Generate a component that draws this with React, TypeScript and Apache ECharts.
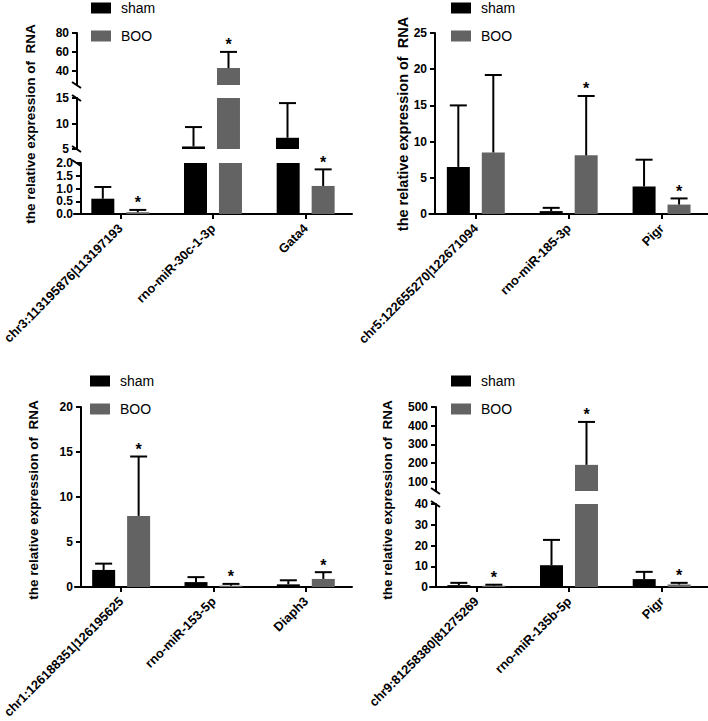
import React, { useEffect, useRef } from 'react';
import * as echarts from 'echarts';

const groupNames = ['sham', 'BOO'];
const groupColors = ['#000000', '#636363'];
const yTitle = 'the relative expression of  RNA';

// Panel A (top-left)
const catsA = ['chr3:113195876|113197193', 'rno-miR-30c-1-3p', 'Gata4'];
const shamA = [0.6, 5.5, 7.2];
const shamSdA = [0.46, 3.8, 6.8];
const booA = [0.07, 43, 1.1];
const booSdA = [0.09, 17, 0.65];
const sigA = [1, 1, 1];
const rangesA = [[25, 80], [5, 15], [0, 2]];
const ticksA = [[40, 60, 80], [5, 10, 15], [0, 0.5, 1, 1.5, 2]];

// Panel B (top-right)
const catsB = ['chr5:122655270|122671094', 'rno-miR-185-3p', 'Pigr'];
const shamB = [6.5, 0.4, 3.8];
const shamSdB = [8.5, 0.45, 3.7];
const booB = [8.5, 8.1, 1.3];
const booSdB = [10.7, 8.2, 0.85];
const sigB = [0, 1, 1];
const rangesB = [[0, 25]];
const ticksB = [[0, 5, 10, 15, 20, 25]];

// Panel C (bottom-left)
const catsC = ['chr1:126188351|126195625', 'rno-miR-153-5p', 'Diaph3'];
const shamC = [1.9, 0.55, 0.3];
const shamSdC = [0.7, 0.55, 0.45];
const booC = [7.9, 0.15, 0.9];
const booSdC = [6.6, 0.2, 0.75];
const sigC = [1, 1, 1];
const rangesC = [[0, 20]];
const ticksC = [[0, 5, 10, 15, 20]];

// Panel D (bottom-right)
const catsD = ['chr9:81258380|81275269', 'rno-miR-135b-5p', 'Pigr'];
const shamD = [0.9, 10.5, 3.8];
const shamSdD = [1.1, 12.2, 3.5];
const booD = [0.6, 190, 1.2];
const booSdD = [0.5, 230, 0.8];
const sigD = [1, 1, 1];
const rangesD = [[50, 500], [0, 40]];
const ticksD = [[100, 200, 300, 400, 500], [0, 10, 20, 30, 40]];

const panels = [
  { cats: catsA, sham: shamA, shamSd: shamSdA, boo: booA, booSd: booSdA, sig: sigA, ranges: rangesA, ticks: ticksA, decimals: [0, 0, 1] },
  { cats: catsB, sham: shamB, shamSd: shamSdB, boo: booB, booSd: booSdB, sig: sigB, ranges: rangesB, ticks: ticksB, decimals: [0] },
  { cats: catsC, sham: shamC, shamSd: shamSdC, boo: booC, booSd: booSdC, sig: sigC, ranges: rangesC, ticks: ticksC, decimals: [0] },
  { cats: catsD, sham: shamD, shamSd: shamSdD, boo: booD, booSd: booSdD, sig: sigD, ranges: rangesD, ticks: ticksD, decimals: [0, 0] },
];

// Layout (pixels)
const layouts = [
  { axisX: 77, c0: 117, step: 94, segs: [[33, 85], [98, 149], [163, 214]], legend: [91, 1], title: [30, 124], titleSize: 13.5 },
  { axisX: 435, c0: 476.5, step: 94.25, segs: [[33, 214]], legend: [451, 1], title: [403, 124], titleSize: 14.5 },
  { axisX: 76, c0: 117, step: 94, segs: [[407, 588]], legend: [90, 374], title: [33, 500], titleSize: 13.5 },
  { axisX: 436, c0: 477, step: 94, segs: [[407, 491], [504, 587]], legend: [451, 374], title: [387, 500], titleSize: 13.5 },
];

const FONT = '"Liberation Sans", Arial, sans-serif';
const BAR_W = 23;
const BAR_OFFSET = 17.5;
const CAP = 8.5;

function buildOption() {
  const grid: any[] = [];
  const xAxis: any[] = [];
  const yAxis: any[] = [];
  const series: any[] = [];
  const graphic: any[] = [];
  const legend: any[] = [];

  panels.forEach((p, pi) => {
    const L = layouts[pi];
    const left = L.c0 - L.step / 2;
    const width = L.step * 3;
    L.segs.forEach((s, si) => {
      const gi = grid.length;
      const isBottom = si === L.segs.length - 1;
      const [mn, mx] = p.ranges[si];
      const dec = p.decimals[si];
      grid.push({ left, top: s[0], width, height: s[1] - s[0], containLabel: false });
      xAxis.push({
        type: 'category',
        gridIndex: gi,
        data: p.cats,
        show: isBottom,
        boundaryGap: true,
        axisLine: { show: true, onZero: false, lineStyle: { color: '#000', width: 2 } },
        axisTick: { show: true, alignWithLabel: true, length: 5, lineStyle: { color: '#000', width: 2 } },
        axisLabel: {
          show: isBottom, rotate: 45, interval: 0, margin: 12, color: '#000',
          fontWeight: 'bold', fontSize: 12.8, fontFamily: FONT, hideOverlap: false,
        },
        splitLine: { show: false },
      });
      yAxis.push({
        type: 'value',
        gridIndex: gi,
        min: mn,
        max: mx,
        offset: left - L.axisX,
        splitLine: { show: false },
        axisLine: { show: true, lineStyle: { color: '#000', width: 2 } },
        axisTick: { show: true, length: 5, customValues: p.ticks[si], lineStyle: { color: '#000', width: 2 } },
        axisLabel: {
          customValues: p.ticks[si],
          showMinLabel: true,
          showMaxLabel: true,
          hideOverlap: false,
          formatter: (v: number) => (dec ? v.toFixed(1) : String(v)),
          color: '#000', fontWeight: 'bold', fontSize: 12, lineHeight: 12, fontFamily: FONT, margin: 8,
        },
      });
      series.push({
        type: 'bar', name: groupNames[0], xAxisIndex: gi, yAxisIndex: gi, data: p.sham,
        barWidth: BAR_W, barGap: '52%', clip: true, itemStyle: { color: groupColors[0] },
      });
      series.push({
        type: 'bar', name: groupNames[1], xAxisIndex: gi, yAxisIndex: gi, data: p.boo,
        barWidth: BAR_W, barGap: '52%', clip: true, itemStyle: { color: groupColors[1] },
      });
      const errData: any[] = [];
      p.cats.forEach((_c, ci) => {
        if (p.sham[ci] >= mn && p.sham[ci] <= mx) errData.push([ci, p.sham[ci], p.shamSd[ci], 0, 0]);
        if (p.boo[ci] >= mn && p.boo[ci] <= mx) errData.push([ci, p.boo[ci], p.booSd[ci], p.sig[ci], 1]);
      });
      series.push({
        type: 'custom', name: 'err' + gi, xAxisIndex: gi, yAxisIndex: gi, z: 5, clip: false,
        encode: { x: 0, y: 1 },
        data: errData,
        renderItem: (_params: any, api: any) => {
          const cat = api.value(0);
          const mean = api.value(1);
          const sd = api.value(2);
          const sig = api.value(3);
          const g = api.value(4);
          const p0 = api.coord([cat, mean]);
          const p1 = api.coord([cat, mean + sd]);
          const x = p0[0] + (g === 0 ? -BAR_OFFSET : BAR_OFFSET);
          const children: any[] = [
            { type: 'line', shape: { x1: x, y1: p0[1], x2: x, y2: p1[1] }, style: { stroke: '#000', lineWidth: 2 } },
            { type: 'line', shape: { x1: x - CAP, y1: p1[1], x2: x + CAP, y2: p1[1] }, style: { stroke: '#000', lineWidth: 2 } },
          ];
          if (sig) {
            children.push({
              type: 'text', x, y: p1[1] - 7,
              style: { text: '*', font: 'bold 16px ' + FONT, fill: '#000', align: 'center', verticalAlign: 'middle' },
            });
          }
          return { type: 'group', children };
        },
      });
    });

    // axis break marks
    for (let i = 0; i < L.segs.length - 1; i++) {
      const B = L.segs[i][1];
      const T = L.segs[i + 1][0];
      [B, T].forEach((yy) => {
        graphic.push({
          type: 'line', shape: { x1: L.axisX - 5, y1: yy - 3, x2: L.axisX + 4, y2: yy + 3 },
          style: { stroke: '#000', lineWidth: 2 }, z: 10,
        });
      });
    }

    graphic.push({
      type: 'text', x: L.title[0], y: L.title[1], rotation: Math.PI / 2,
      style: { text: yTitle, font: 'bold ' + L.titleSize + 'px ' + FONT, fill: '#000', align: 'center', verticalAlign: 'middle' },
    });

    legend.push({
      data: groupNames, orient: 'vertical', left: L.legend[0], top: L.legend[1], padding: 0,
      itemWidth: 20, itemHeight: 11, itemGap: 14, icon: 'rect', selectedMode: false,
      textStyle: { fontSize: 14, fontFamily: FONT, color: '#000', lineHeight: 11, padding: [0, 0, 0, 5] },
    });
  });

  return {
    animation: false,
    backgroundColor: '#ffffff',
    grid, xAxis, yAxis, series, graphic, legend,
  };
}

export default function App() {
  const ref = useRef<HTMLDivElement>(null);
  useEffect(() => {
    if (!ref.current) return;
    const chart = echarts.init(ref.current, null, { renderer: 'svg' });
    chart.setOption(buildOption() as any);
    return () => chart.dispose();
  }, []);
  return (
    <div
      ref={ref}
      style={{ position: 'fixed', left: 0, top: 0, width: 708, height: 721, background: '#fff' }}
    />
  );
}
